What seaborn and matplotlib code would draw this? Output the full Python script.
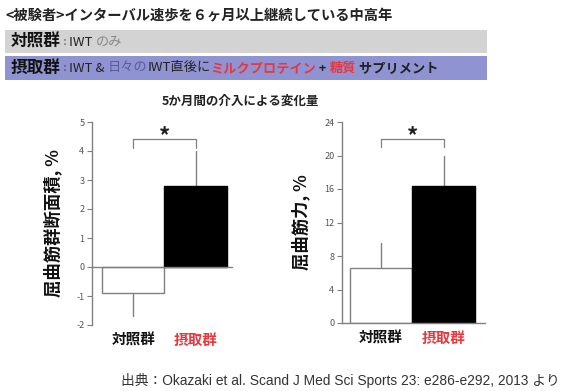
import matplotlib
matplotlib.use("Agg")
import matplotlib.pyplot as plt
import seaborn as sns
import pandas as pd
from matplotlib.patches import Rectangle

# ---- data ----
groups = ['対照群', '摂取群']
csa_mean = [-0.9, 2.8]
csa_err = [0.8, 1.2]
str_mean = [6.6, 16.3]
str_err = [2.9, 3.7]
csa_ticks = [-2, -1, 0, 1, 2, 3, 4, 5]
str_ticks = [0, 4, 8, 12, 16, 20, 24]

sns.set_theme(style="white")
plt.rcParams['font.family'] = ['Noto Sans CJK JP', 'DejaVu Sans']

W, H = 563, 391
fig = plt.figure(figsize=(W / 100, H / 100), dpi=100)
fig.patch.set_facecolor('white')

def fx(px):
    return px / W

def fy(py):
    return 1 - py / H

GRAY = '#808080'
RED = '#e8383d'

# ---- header ----
renderer = fig.canvas.get_renderer()

def seq_text(x, y, pieces):
    for s, color, size, weight in pieces:
        t = fig.text(x, y, s, color=color, fontsize=size, fontweight=weight,
                     va='center', ha='left')
        bb = t.get_window_extent(renderer=renderer)
        x += bb.width / fig.bbox.width

fig.text(fx(5), fy(16), '<被験者>インターバル速歩を６ヶ月以上継続している中高年',
         fontsize=10.3, fontweight='bold', color='#222222', va='center', ha='left')

fig.patches.append(Rectangle((fx(5), fy(53)), fx(482), 23 / H, transform=fig.transFigure,
                             facecolor='#d3d3d3', edgecolor='none', zorder=0))
fig.patches.append(Rectangle((fx(5), fy(80)), fx(482), 24 / H, transform=fig.transFigure,
                             facecolor='#9093d2', edgecolor='none', zorder=0))

seq_text(fx(11), fy(42), [('対照群', '#111111', 12, 'bold'),
                          (' : ', '#555555', 8, 'normal'),
                          ('IWT ', '#222222', 9.5, 'normal'),
                          ('のみ', '#888888', 9.5, 'normal')])
seq_text(fx(11), fy(68), [('摂取群', '#111111', 12, 'bold'),
                          (' : ', '#444444', 8, 'normal'),
                          ('IWT & ', '#222222', 9.5, 'normal'),
                          ('日々の', '#5a5aa0', 9.5, 'normal'),
                          ('IWT直後に', '#222222', 9.5, 'normal'),
                          ('ミルクプロテイン', RED, 9.5, 'bold'),
                          (' + ', '#222222', 9, 'bold'),
                          ('糖質', RED, 9.5, 'bold'),
                          (' サプリメント', '#222222', 9.5, 'bold')])

fig.text(fx(240), fy(101), '5か月間の介入による変化量', fontsize=9, fontweight='bold',
         color='#222222', ha='center', va='center')

fig.text(fx(560), fy(381), '出典：Okazaki et al. Scand J Med Sci Sports 23: e286-e292, 2013 より',
         fontsize=9.9, color='#333333', ha='right', va='center',
         family=['Liberation Sans', 'Noto Sans CJK JP'])

# ---- panels ----
def panel(rect, means, errs, ylim, ticks, ylabel, xlim, brk_y, brk_drop, star_y, zero_line):
    ax = fig.add_axes(rect)
    df = pd.DataFrame({'group': groups, 'value': means})
    sns.barplot(data=df, x='group', y='value', hue='group', palette=['white', 'black'],
                width=1.0, legend=False, ax=ax, errorbar=None, zorder=2)
    for p, ec in zip(ax.patches, [GRAY, 'black']):
        p.set_edgecolor(ec)
        p.set_linewidth(1.0)
    for i, (m, e) in enumerate(zip(means, errs)):
        end = m - e if m < 0 else m + e
        ax.plot([i, i], [m, end], color=GRAY, lw=1.0, zorder=1)
    ax.set_ylim(*ylim)
    ax.set_xlim(*xlim)
    ax.set_yticks(ticks)
    ax.set_yticklabels([str(t) for t in ticks])
    ax.set_xlabel('')
    ax.set_ylabel(ylabel, fontsize=12.5, fontweight='bold', color='#111111', labelpad=10)
    for s in ['top', 'right']:
        ax.spines[s].set_visible(False)
    ax.spines['left'].set_color(GRAY)
    ax.spines['left'].set_linewidth(1.0)
    if zero_line:
        ax.spines['bottom'].set_visible(False)
        ax.axhline(0, color=GRAY, lw=1.0, zorder=3)
    else:
        ax.spines['bottom'].set_color(GRAY)
        ax.spines['bottom'].set_linewidth(1.0)
    ax.tick_params(axis='y', direction='out', length=3.5, width=0.8, color=GRAY,
                   labelsize=6.5, labelcolor='#555555', pad=2, left=True)
    ax.tick_params(axis='x', length=0, pad=5, labelsize=10.5)
    labs = ax.get_xticklabels()
    for lab, c in zip(labs, ['#111111', RED]):
        lab.set_color(c)
        lab.set_fontweight('bold')
    # significance bracket
    ax.plot([0, 0, 1, 1], [brk_y - brk_drop, brk_y, brk_y, brk_y - brk_drop],
            color=GRAY, lw=0.9, clip_on=False)
    ax.text(0.5, star_y, '*', ha='center', va='center', fontsize=16, fontweight='bold',
            color='#222222')
    ax.set_facecolor('white')
    return ax

panel([fx(92), fy(325), fx(141), 203 / H], csa_mean, csa_err, (-2, 5), csa_ticks,
      '屈曲筋群断面積, %', (-0.66, 1.6), 4.4, 0.28, 4.5, True)
panel([fx(342), fy(323), fx(143), 201 / H], str_mean, str_err, (0, 24), str_ticks,
      '屈曲筋力, %', (-0.62, 1.66), 22.0, 1.0, 22.3, False)

fig.savefig('out.png', dpi=100)
